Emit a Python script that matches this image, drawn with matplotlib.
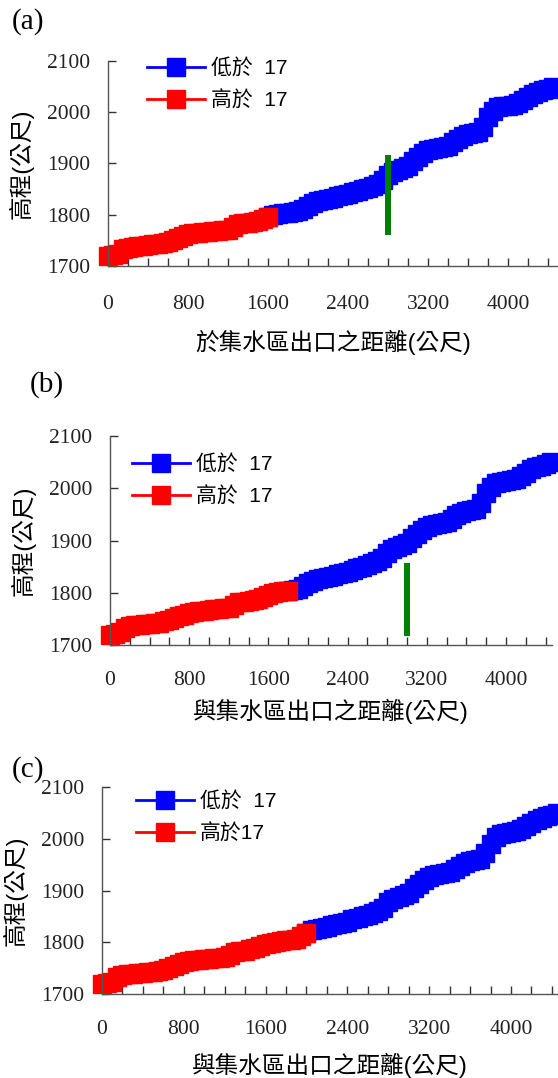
import matplotlib
matplotlib.use("Agg")
import matplotlib.pyplot as plt
from matplotlib.ticker import MultipleLocator

# profile (distance from outlet in m, elevation in m)
distance = [0, 50, 100, 150, 200, 250, 300, 350, 400, 450, 500, 550, 600, 650, 700,
            750, 800, 850, 900, 950, 1000, 1050, 1100, 1150, 1200, 1250, 1300, 1350,
            1400, 1450, 1500, 1550, 1600, 1650, 1700, 1750, 1800, 1850, 1900, 1950,
            2000, 2050, 2100, 2150, 2200, 2250, 2300, 2350, 2400, 2450, 2500, 2550,
            2600, 2650, 2700, 2750, 2800, 2850, 2900, 2950, 3000, 3050, 3100, 3150,
            3200, 3250, 3300, 3350, 3400, 3450, 3500, 3550, 3600, 3650, 3700, 3750,
            3800, 3850, 3900, 3950, 4000, 4050, 4100, 4150, 4200, 4250, 4300, 4350,
            4400, 4450]
elevation = [1720, 1721, 1724, 1733, 1736, 1738, 1739, 1740, 1741, 1742, 1743, 1745,
             1747, 1751, 1755, 1758, 1762, 1764, 1765, 1766, 1767, 1768, 1769, 1770,
             1771, 1776, 1782, 1783, 1784, 1786, 1788, 1792, 1796, 1799, 1801, 1803,
             1804, 1805, 1807, 1812, 1818, 1823, 1826, 1828, 1830, 1833, 1836, 1838,
             1840, 1844, 1847, 1850, 1853, 1856, 1860, 1867, 1877, 1884, 1888, 1892,
             1896, 1904, 1912, 1920, 1926, 1929, 1931, 1933, 1935, 1941, 1948, 1953,
             1957, 1959, 1961, 1972, 1990, 2003, 2010, 2012, 2013, 2015, 2018, 2024,
             2030, 2036, 2040, 2043, 2046, 2050]

panel_tags = ["(a)", "(b)", "(c)"]
split_dist = [1600, 1800, 2000]
x_labels = ["於集水區出口之距離(公尺)", "與集水區出口之距離(公尺)", "與集水區出口之距離(公尺)"]
low_labels = ["低於  17", "低於  17", "低於  17"]
high_labels = ["高於  17", "高於  17", "高於17"]
green_x = [2800, 3000, None]
green_lo = [1760, 1718, None]
green_hi = [1916, 1857, None]
y_label = "高程(公尺)"

W, H = 558, 1078
fig = plt.figure(figsize=(W / 100, H / 100), dpi=100)

# pixel layout: left, right, top, bottom, xmax, tag pos, legend anchor, xtick pad, label pads
layout = [
    dict(l=108, r=558, t=61, b=266, xmax=4500, tag=(28, 22), leg=(147, 58), pad=21, xlp=11, ylp=9),
    dict(l=110, r=552, t=436, b=645, xmax=4465, tag=(47, 385), leg=(132, 454), pad=19, xlp=6, ylp=9),
    dict(l=102, r=558, t=787, b=994, xmax=4460, tag=(28, 770), leg=(136, 791), pad=19, xlp=10, ylp=9),
]

cjk = ["Liberation Sans", "Noto Sans CJK TC"]
serif = ["Liberation Serif"]
ms = 13

for i, L in enumerate(layout):
    ax = fig.add_axes([L["l"] / W, 1 - L["b"] / H, (L["r"] - L["l"]) / W, (L["b"] - L["t"]) / H])
    s = split_dist[i]
    bx = [d for d in distance if d >= s]
    by = [e for d, e in zip(distance, elevation) if d >= s]
    rx = [d for d in distance if d <= s]
    ry = [e for d, e in zip(distance, elevation) if d <= s]
    ax.plot(bx, by, color="#0000ff", lw=2, marker="s", ms=ms, mec="#0000ff",
            label=low_labels[i], clip_on=False)
    ax.plot(rx, ry, color="#ff0000", lw=2, marker="s", ms=ms, mec="#ff0000",
            label=high_labels[i], clip_on=False)
    if green_x[i] is not None:
        ax.vlines(green_x[i], green_lo[i], green_hi[i], color="#008000", lw=4.3)

    ax.set_xlim(0, L["xmax"])
    ax.set_ylim(1700, 2100)
    ax.xaxis.set_major_locator(MultipleLocator(800))
    ax.xaxis.set_minor_locator(MultipleLocator(200))
    ax.yaxis.set_major_locator(MultipleLocator(100))
    for sp in ["top", "right"]:
        ax.spines[sp].set_visible(False)
    for sp in ["left", "bottom"]:
        ax.spines[sp].set_color("#555555")
        ax.spines[sp].set_linewidth(1.0)
    ax.tick_params(axis="both", which="both", direction="in", length=6, width=1,
                   color="#333333")
    ax.tick_params(axis="x", which="major", pad=L["pad"])
    ax.tick_params(axis="y", pad=13)
    for t in ax.get_xticklabels() + ax.get_yticklabels():
        t.set_fontfamily(serif)
        t.set_fontsize(15.5)
        t.set_color("#222222")

    ax.set_xlabel(x_labels[i], family=cjk, fontsize=17, labelpad=L["xlp"])
    ax.set_ylabel(y_label, family=cjk, fontsize=17, labelpad=L["ylp"])

    fig.text(L["tag"][0] / W, 1 - L["tag"][1] / H, panel_tags[i], family=serif,
             fontsize=21, ha="center", va="center")

    ax.legend(loc="upper left", bbox_to_anchor=(L["leg"][0] / W, 1 - L["leg"][1] / H),
              bbox_transform=fig.transFigure, frameon=False, prop={"family": cjk, "size": 15},
              handlelength=2.8, handletextpad=0.25, labelspacing=0.6, borderpad=0,
              borderaxespad=0, numpoints=1)

fig.savefig("out.png", dpi=100)
